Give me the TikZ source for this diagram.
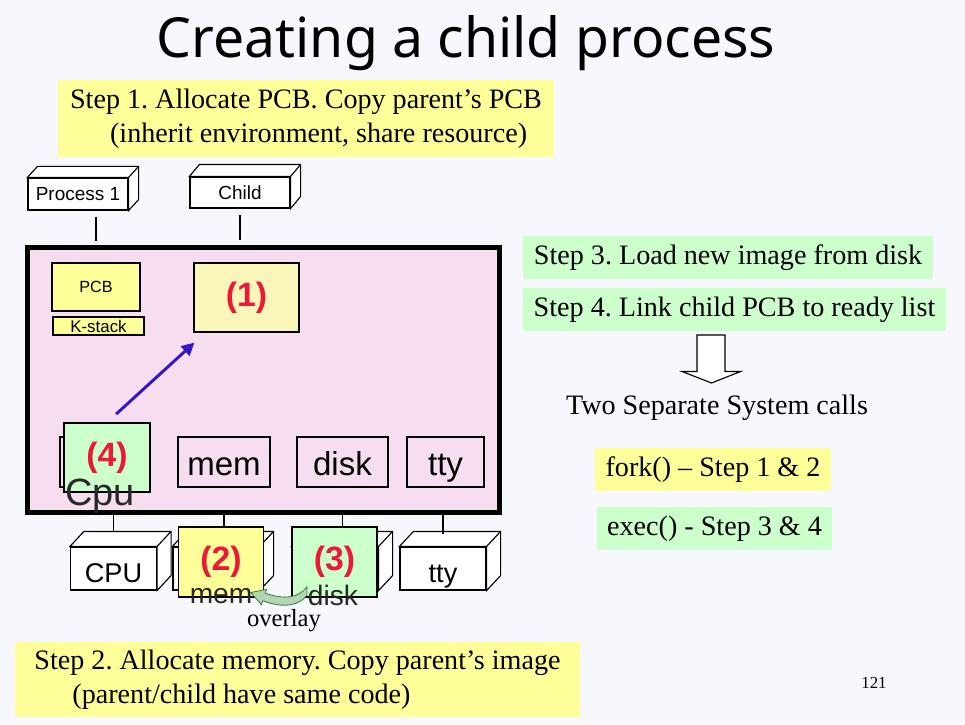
\documentclass[tikz,border=0pt]{standalone}
\usepackage{fontspec}
\setmainfont{Liberation Serif}
\setsansfont{Liberation Sans}
\newfontfamily\titlefont{Noto Sans}
\usetikzlibrary{arrows.meta,calc}
\definecolor{slidebg}{RGB}{247,248,253}
\definecolor{kernelpink}{RGB}{246,221,240}
\definecolor{stepyellow}{RGB}{255,255,153}
\definecolor{creamyellow}{RGB}{250,245,185}
\definecolor{stepgreen}{RGB}{204,255,204}
\definecolor{markred}{RGB}{235,25,55}
\definecolor{linkblue}{RGB}{48,24,200}
\definecolor{overlaygreen}{RGB}{178,214,178}
\definecolor{overlayedge}{RGB}{70,120,70}
\definecolor{inkgray}{RGB}{40,40,40}
\frenchspacing

\begin{document}
\begin{tikzpicture}[x=0.025cm, y=-0.025cm,
  steptext/.style={font=\fontsize{20}{24}\selectfont, align=left, inner sep=0pt},
  stepyel/.style={steptext, fill=stepyellow},
  stepgrn/.style={steptext, fill=stepgreen},
  thinbox/.style={draw, line width=0.8pt, inner sep=0pt},
  devbox/.style={thinbox, font=\sffamily\fontsize{23.5}{26}\selectfont, minimum height=1.25cm, text height=21pt, text depth=2.5pt},
  cubebox/.style={thinbox, fill=white},
  stepmark/.style={thinbox, text=markred, font=\sffamily\bfseries\fontsize{24}{26}\selectfont},
  ink/.style={text=inkgray, font=\sffamily\fontsize{20}{22}\selectfont}
]
  \fill[slidebg] (0,0) rectangle (965,724);
  \useasboundingbox (0,0) rectangle (965,724);

  \node[font=\titlefont\fontsize{39.3}{44}\selectfont, anchor=base] (title) at (466,57) {Creating a child process};

  \node[stepyel, minimum width=12.4cm, minimum height=1.925cm] (step1) at (306,118.5)
       {Step 1. Allocate PCB. Copy parent’s PCB\\\hspace*{1cm}(inherit environment, share resource)};

  % processes on top
  \node[cubebox, font=\sffamily\fontsize{13.5}{15}\selectfont, minimum width=2.5cm, minimum height=0.8cm] (p1) at (78,194) {Process 1};
  \node[cubebox, font=\sffamily\fontsize{13.5}{15}\selectfont, minimum width=2.5cm, minimum height=0.775cm] (child) at (240,192.5) {Child};
  \foreach \n/\dx/\dy in {p1/10/11, child/10/12}
    \filldraw[fill=white, line width=0.8pt] (\n.north west) -- ++(\dx,-\dy) -- ($(\n.north east)+(\dx,-\dy)$)
      -- ($(\n.south east)+(\dx,-\dy)$) -- (\n.south east) -- (\n.north east) -- cycle
      (\n.north east) -- ++(\dx,-\dy);
  \draw[line width=0.8pt] (p1.south) ++(18,6) -- ++(0,24);
  \draw[line width=0.8pt] (child.south) ++(0,6) -- ++(0,25);

  % kernel
  \node[draw, line width=0.125cm, fill=kernelpink, minimum width=11.8cm, minimum height=6.625cm, inner sep=0pt] (os) at (263.5,380) {};
  \node[thinbox, fill=stepyellow, font=\sffamily\fontsize{11.5}{13}\selectfont, minimum width=2.2cm, minimum height=1.2cm] (pcb) at (96,287) {PCB};
  \node[thinbox, fill=stepyellow, font=\sffamily\fontsize{12}{13}\selectfont, minimum width=2.275cm, minimum height=0.45cm] (kstack) at (98.5,326) {K-stack};
  \node[stepmark, fill=creamyellow, minimum width=2.625cm, minimum height=1.725cm] (one) at (246.5,297.5) {(1)};

  \node[devbox, minimum width=2.25cm] (cpuin) at (105,462) {};
  \node[devbox, minimum width=2.3cm] (memin) at (224,462) {mem};
  \node[devbox, minimum width=2.275cm] (diskin) at (342.5,462) {disk};
  \node[devbox, minimum width=1.925cm] (ttyin) at (445.5,462) {tty};
  \node[stepmark, fill=stepgreen, minimum width=2.15cm, minimum height=1.725cm] (four) at (107,457.5) {(4)};
  \draw[-{Triangle[length=9pt,width=9pt]}, linkblue, line width=2.1pt, shorten <=8.8pt, shorten >=10.6pt]
       (four.north) -- ([xshift=0.3cm]one.south west);
  \node[ink, font=\sffamily\fontsize{27}{28}\selectfont] (cpuink) at (100,496) {Cpu};

  % devices below
  \node[cubebox, font=\sffamily\fontsize{19.3}{21}\selectfont, minimum width=2.15cm, minimum height=1.075cm, text height=21.6pt, text depth=1pt] (cpul) at (113.5,568.5) {CPU};
  \node[cubebox, minimum width=2.15cm, minimum height=1.075cm] (meml) at (216,568.5) {};
  \node[cubebox, minimum width=2.15cm, minimum height=1.075cm] (diskl) at (335,568.5) {};
  \node[cubebox, font=\sffamily\fontsize{19.3}{21}\selectfont, minimum width=2.15cm, minimum height=1.075cm, text height=21.6pt, text depth=1pt] (ttyl) at (443,568.5) {tty};
  \foreach \n in {cpul, meml, diskl, ttyl}
    \filldraw[fill=white, line width=0.8pt] (\n.north west) -- ++(14,-15) -- ($(\n.north east)+(14,-15)$)
      -- ($(\n.south east)+(14,-15)$) -- (\n.south east) -- (\n.north east) -- cycle
      (\n.north east) -- ++(14,-15);
  \node[stepmark, fill=stepyellow, minimum width=2.125cm, minimum height=1.75cm] (two) at (221,562) {(2)};
  \node[stepmark, fill=stepgreen, minimum width=2.125cm, minimum height=1.75cm] (three) at (334.5,562) {(3)};
  \draw[line width=0.8pt, shorten >=10.7pt] (os.south -| cpul.north) -- (cpul.north);
  \draw[line width=0.8pt] (os.south -| memin.south) -- (memin.south |- two.north);
  \draw[line width=0.8pt] (os.south -| diskin.south) -- (diskin.south |- three.north);
  \draw[line width=0.8pt, shorten >=8.5pt] (os.south -| ttyl.north) -- (ttyl.north);

  \filldraw[fill=overlaygreen, draw=overlayedge, line width=0.6pt] (307,587) .. controls (298,598) and (285,600) .. (265.3,593.2)
    -- (266.6,589.4) -- (250.7,592.5) -- (261.4,604.6) -- (262.7,600.8) .. controls (285,609) and (300,605) .. (307,595) -- cycle;
  \node[ink] (memink) at (221,596) {mem};
  \node[ink] (diskink) at (333,595) {disk};
  \node[font=\fontsize{17.5}{20}\selectfont] (ovl) at (284,621) {overlay};

  \node[stepyel, minimum width=14.125cm, minimum height=1.875cm] (step2) at (297.5,679.5)
       {Step 2. Allocate memory. Copy parent’s image\\\hspace*{0.95cm}(parent/child have same code)};
  \node[font=\fontsize{12}{14}\selectfont] (page) at (874,683) {121};

  % right side
  \node[stepgrn, minimum width=10.25cm, minimum height=1.075cm] (step3) at (728,257.5) {Step 3. Load new image from disk};
  \node[stepgrn, minimum width=10.575cm, minimum height=1.075cm] (step4) at (734.5,309.5) {Step 4. Link child PCB to ready list};
  \draw[line width=0.8pt, fill=white] (697,335) -- (725,335) -- (725,371.5) -- (740.5,371.5) -- (711.5,383)
    -- (682,371.5) -- (697,371.5) -- cycle;
  \node[steptext] (calls) at (717,408) {Two Separate System calls};
  \node[stepyel, minimum width=5.9cm, minimum height=1.075cm] (fork) at (713,469.5) {fork() – Step 1 \& 2};
  \node[stepgrn, minimum width=5.875cm, minimum height=1.075cm] (exec) at (714.5,528.5) {exec() - Step 3 \& 4};
\end{tikzpicture}
\end{document}
